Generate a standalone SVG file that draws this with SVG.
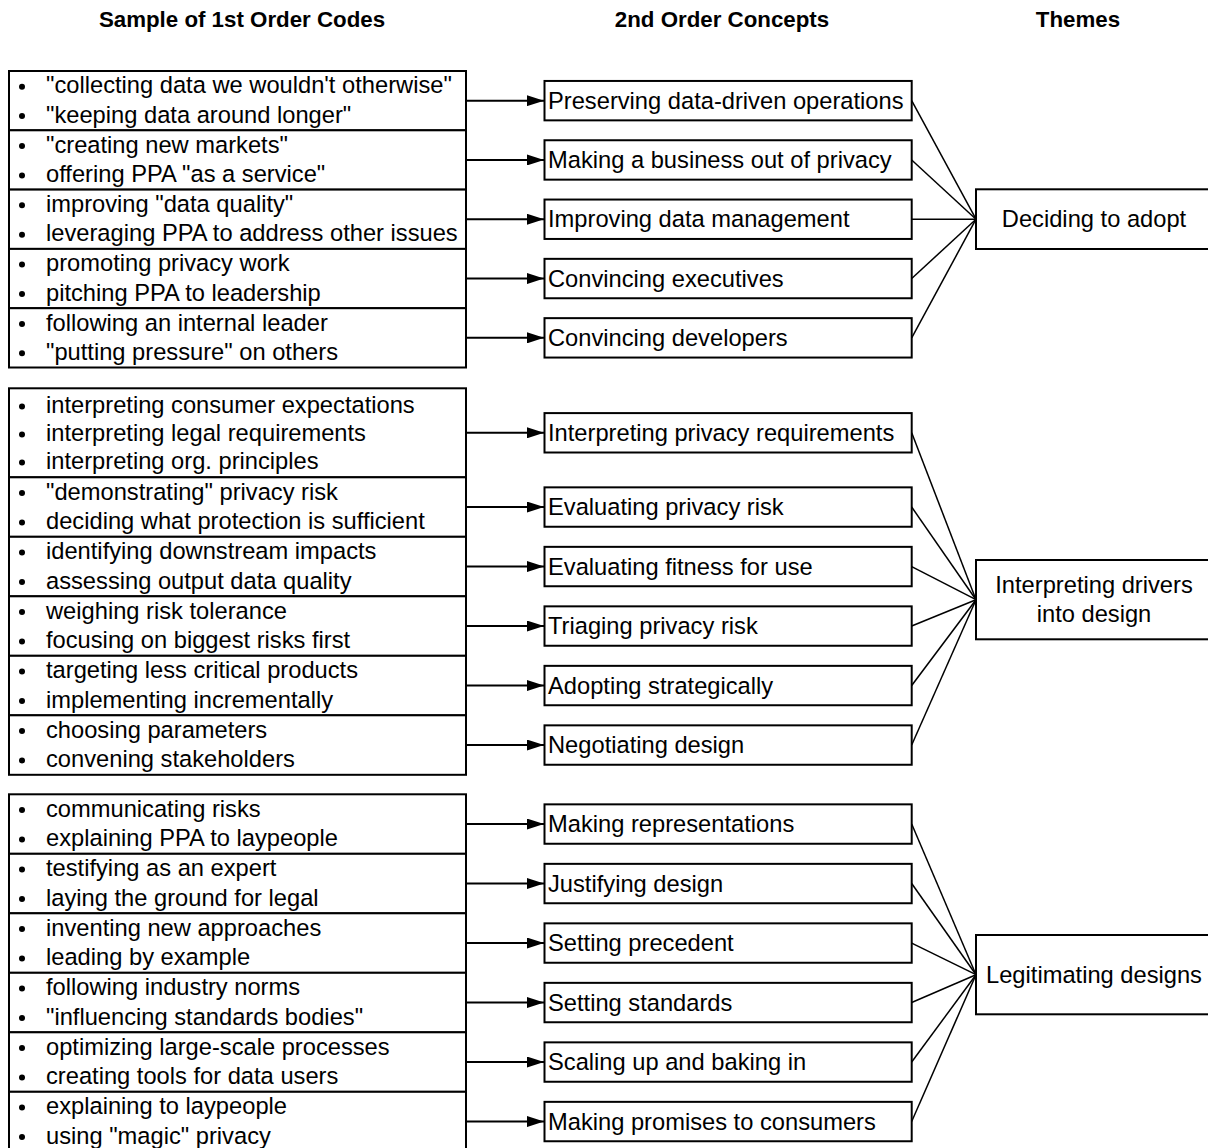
<svg xmlns="http://www.w3.org/2000/svg" width="1208" height="1148" viewBox="0 0 1208 1148">
<style>
  text { font-family: "Liberation Sans", Arial, sans-serif; fill: #000; }
  .hdr { font-size: 22.3px; font-weight: bold; text-anchor: middle; }
  .t { font-size: 23.7px; }
  .c { font-size: 23.7px; text-anchor: middle; }
  .box { fill: #fff; stroke: #000; stroke-width: 2; }
  .arr { stroke: #000; stroke-width: 2; fill: none; }
  .fan { stroke: #000; stroke-width: 1.5; fill: none; }
  .dot { fill: #000; }
</style>
<defs>
  <marker id="ah" viewBox="0 0 17 11" refX="17" refY="5.5" markerWidth="17" markerHeight="11" markerUnits="userSpaceOnUse" orient="auto">
    <path d="M0,0 L17,5.5 L0,11 z" fill="#000"/>
  </marker>
</defs>
<rect width="1208" height="1148" fill="#fff"/>

<g id="headers">
  <text class="hdr" x="242" y="27">Sample of 1st Order Codes</text>
  <text class="hdr" x="722" y="27">2nd Order Concepts</text>
  <text class="hdr" x="1078" y="27">Themes</text>
</g>

<!-- Section 1 first-order codes -->
<g id="c1-1"><rect class="box" x="9" y="71" width="457" height="59.3"/>
  <circle class="dot" cx="22" cy="86.7" r="3"/><text class="t" x="46" y="93.3">"collecting data we wouldn't otherwise"</text>
  <circle class="dot" cx="22" cy="116.1" r="3"/><text class="t" x="46" y="122.7">"keeping data around longer"</text></g>
<g id="c1-2"><rect class="box" x="9" y="130.3" width="457" height="59.3"/>
  <circle class="dot" cx="22" cy="146" r="3"/><text class="t" x="46" y="152.6">"creating new markets"</text>
  <circle class="dot" cx="22" cy="175.4" r="3"/><text class="t" x="46" y="182">offering PPA "as a service"</text></g>
<g id="c1-3"><rect class="box" x="9" y="189.6" width="457" height="59.3"/>
  <circle class="dot" cx="22" cy="205.3" r="3"/><text class="t" x="46" y="211.9">improving "data quality"</text>
  <circle class="dot" cx="22" cy="234.7" r="3"/><text class="t" x="46" y="241.3">leveraging PPA to address other issues</text></g>
<g id="c1-4"><rect class="box" x="9" y="248.9" width="457" height="59.3"/>
  <circle class="dot" cx="22" cy="264.6" r="3"/><text class="t" x="46" y="271.2">promoting privacy work</text>
  <circle class="dot" cx="22" cy="294" r="3"/><text class="t" x="46" y="300.6">pitching PPA to leadership</text></g>
<g id="c1-5"><rect class="box" x="9" y="308.2" width="457" height="59.3"/>
  <circle class="dot" cx="22" cy="323.9" r="3"/><text class="t" x="46" y="330.5">following an internal leader</text>
  <circle class="dot" cx="22" cy="353.3" r="3"/><text class="t" x="46" y="359.9">"putting pressure" on others</text></g>

<!-- Section 2 first-order codes -->
<g id="c2-1"><rect class="box" x="9" y="388.3" width="457" height="89"/>
  <circle class="dot" cx="22" cy="406.4" r="3"/><text class="t" x="46" y="413">interpreting consumer expectations</text>
  <circle class="dot" cx="22" cy="434.4" r="3"/><text class="t" x="46" y="441">interpreting legal requirements</text>
  <circle class="dot" cx="22" cy="462.4" r="3"/><text class="t" x="46" y="469">interpreting org. principles</text></g>
<g id="c2-2"><rect class="box" x="9" y="477.3" width="457" height="59.5"/>
  <circle class="dot" cx="22" cy="493" r="3"/><text class="t" x="46" y="499.6">"demonstrating" privacy risk</text>
  <circle class="dot" cx="22" cy="522.4" r="3"/><text class="t" x="46" y="529">deciding what protection is sufficient</text></g>
<g id="c2-3"><rect class="box" x="9" y="536.8" width="457" height="59.5"/>
  <circle class="dot" cx="22" cy="552.5" r="3"/><text class="t" x="46" y="559.1">identifying downstream impacts</text>
  <circle class="dot" cx="22" cy="581.9" r="3"/><text class="t" x="46" y="588.5">assessing output data quality</text></g>
<g id="c2-4"><rect class="box" x="9" y="596.3" width="457" height="59.5"/>
  <circle class="dot" cx="22" cy="612" r="3"/><text class="t" x="46" y="618.6">weighing risk tolerance</text>
  <circle class="dot" cx="22" cy="641.4" r="3"/><text class="t" x="46" y="648">focusing on biggest risks first</text></g>
<g id="c2-5"><rect class="box" x="9" y="655.8" width="457" height="59.5"/>
  <circle class="dot" cx="22" cy="671.5" r="3"/><text class="t" x="46" y="678.1">targeting less critical products</text>
  <circle class="dot" cx="22" cy="700.9" r="3"/><text class="t" x="46" y="707.5">implementing incrementally</text></g>
<g id="c2-6"><rect class="box" x="9" y="715.3" width="457" height="59.5"/>
  <circle class="dot" cx="22" cy="731" r="3"/><text class="t" x="46" y="737.6">choosing parameters</text>
  <circle class="dot" cx="22" cy="760.4" r="3"/><text class="t" x="46" y="767">convening stakeholders</text></g>

<!-- Section 3 first-order codes -->
<g id="c3-1"><rect class="box" x="9" y="794.3" width="457" height="59.5"/>
  <circle class="dot" cx="22" cy="810" r="3"/><text class="t" x="46" y="816.6">communicating risks</text>
  <circle class="dot" cx="22" cy="839.4" r="3"/><text class="t" x="46" y="846">explaining PPA to laypeople</text></g>
<g id="c3-2"><rect class="box" x="9" y="853.8" width="457" height="59.5"/>
  <circle class="dot" cx="22" cy="869.5" r="3"/><text class="t" x="46" y="876.1">testifying as an expert</text>
  <circle class="dot" cx="22" cy="898.9" r="3"/><text class="t" x="46" y="905.5">laying the ground for legal</text></g>
<g id="c3-3"><rect class="box" x="9" y="913.3" width="457" height="59.5"/>
  <circle class="dot" cx="22" cy="929" r="3"/><text class="t" x="46" y="935.6">inventing new approaches</text>
  <circle class="dot" cx="22" cy="958.4" r="3"/><text class="t" x="46" y="965">leading by example</text></g>
<g id="c3-4"><rect class="box" x="9" y="972.8" width="457" height="59.5"/>
  <circle class="dot" cx="22" cy="988.5" r="3"/><text class="t" x="46" y="995.1">following industry norms</text>
  <circle class="dot" cx="22" cy="1017.9" r="3"/><text class="t" x="46" y="1024.5">"influencing standards bodies"</text></g>
<g id="c3-5"><rect class="box" x="9" y="1032.3" width="457" height="59.5"/>
  <circle class="dot" cx="22" cy="1048" r="3"/><text class="t" x="46" y="1054.6">optimizing large-scale processes</text>
  <circle class="dot" cx="22" cy="1077.4" r="3"/><text class="t" x="46" y="1084">creating tools for data users</text></g>
<g id="c3-6"><rect class="box" x="9" y="1091.8" width="457" height="59.5"/>
  <circle class="dot" cx="22" cy="1107.5" r="3"/><text class="t" x="46" y="1114.1">explaining to laypeople</text>
  <circle class="dot" cx="22" cy="1136.9" r="3"/><text class="t" x="46" y="1143.5">using "magic" privacy</text></g>

<!-- Connectors -->
<g id="connectors">
  <line class="arr" x1="466" y1="100.65" x2="544" y2="100.65" marker-end="url(#ah)"/>
  <line class="arr" x1="466" y1="159.95" x2="544" y2="159.95" marker-end="url(#ah)"/>
  <line class="arr" x1="466" y1="219.25" x2="544" y2="219.25" marker-end="url(#ah)"/>
  <line class="arr" x1="466" y1="278.55" x2="544" y2="278.55" marker-end="url(#ah)"/>
  <line class="arr" x1="466" y1="337.85" x2="544" y2="337.85" marker-end="url(#ah)"/>

  <line class="arr" x1="466" y1="432.8" x2="544" y2="432.8" marker-end="url(#ah)"/>
  <line class="arr" x1="466" y1="507.05" x2="544" y2="507.05" marker-end="url(#ah)"/>
  <line class="arr" x1="466" y1="566.55" x2="544" y2="566.55" marker-end="url(#ah)"/>
  <line class="arr" x1="466" y1="626.05" x2="544" y2="626.05" marker-end="url(#ah)"/>
  <line class="arr" x1="466" y1="685.55" x2="544" y2="685.55" marker-end="url(#ah)"/>
  <line class="arr" x1="466" y1="745.05" x2="544" y2="745.05" marker-end="url(#ah)"/>

  <line class="arr" x1="466" y1="824.05" x2="544" y2="824.05" marker-end="url(#ah)"/>
  <line class="arr" x1="466" y1="883.55" x2="544" y2="883.55" marker-end="url(#ah)"/>
  <line class="arr" x1="466" y1="943.05" x2="544" y2="943.05" marker-end="url(#ah)"/>
  <line class="arr" x1="466" y1="1002.55" x2="544" y2="1002.55" marker-end="url(#ah)"/>
  <line class="arr" x1="466" y1="1062.05" x2="544" y2="1062.05" marker-end="url(#ah)"/>
  <line class="arr" x1="466" y1="1121.55" x2="544" y2="1121.55" marker-end="url(#ah)"/>

  <line class="fan" x1="911.7" y1="100.65" x2="976" y2="219.2"/>
  <line class="fan" x1="911.7" y1="159.95" x2="976" y2="219.2"/>
  <line class="fan" x1="911.7" y1="219.25" x2="976" y2="219.2"/>
  <line class="fan" x1="911.7" y1="278.55" x2="976" y2="219.2"/>
  <line class="fan" x1="911.7" y1="337.85" x2="976" y2="219.2"/>

  <line class="fan" x1="911.7" y1="432.8" x2="976" y2="599.7"/>
  <line class="fan" x1="911.7" y1="507.05" x2="976" y2="599.7"/>
  <line class="fan" x1="911.7" y1="566.55" x2="976" y2="599.7"/>
  <line class="fan" x1="911.7" y1="626.05" x2="976" y2="599.7"/>
  <line class="fan" x1="911.7" y1="685.55" x2="976" y2="599.7"/>
  <line class="fan" x1="911.7" y1="745.05" x2="976" y2="599.7"/>

  <line class="fan" x1="911.7" y1="824.05" x2="976" y2="974.7"/>
  <line class="fan" x1="911.7" y1="883.55" x2="976" y2="974.7"/>
  <line class="fan" x1="911.7" y1="943.05" x2="976" y2="974.7"/>
  <line class="fan" x1="911.7" y1="1002.55" x2="976" y2="974.7"/>
  <line class="fan" x1="911.7" y1="1062.05" x2="976" y2="974.7"/>
  <line class="fan" x1="911.7" y1="1121.55" x2="976" y2="974.7"/>
</g>

<!-- 2nd order concepts -->
<g id="m1-1"><rect class="box" x="544.5" y="80.95" width="367.2" height="39.4"/><text class="t" x="548" y="108.65">Preserving data-driven operations</text></g>
<g id="m1-2"><rect class="box" x="544.5" y="140.25" width="367.2" height="39.4"/><text class="t" x="548" y="167.95">Making a business out of privacy</text></g>
<g id="m1-3"><rect class="box" x="544.5" y="199.55" width="367.2" height="39.4"/><text class="t" x="548" y="227.25">Improving data management</text></g>
<g id="m1-4"><rect class="box" x="544.5" y="258.85" width="367.2" height="39.4"/><text class="t" x="548" y="286.55">Convincing executives</text></g>
<g id="m1-5"><rect class="box" x="544.5" y="318.15" width="367.2" height="39.4"/><text class="t" x="548" y="345.85">Convincing developers</text></g>

<g id="m2-1"><rect class="box" x="544.5" y="413.1" width="367.2" height="39.4"/><text class="t" x="548" y="440.8">Interpreting privacy requirements</text></g>
<g id="m2-2"><rect class="box" x="544.5" y="487.35" width="367.2" height="39.4"/><text class="t" x="548" y="515.05">Evaluating privacy risk</text></g>
<g id="m2-3"><rect class="box" x="544.5" y="546.85" width="367.2" height="39.4"/><text class="t" x="548" y="574.55">Evaluating fitness for use</text></g>
<g id="m2-4"><rect class="box" x="544.5" y="606.35" width="367.2" height="39.4"/><text class="t" x="548" y="634.05">Triaging privacy risk</text></g>
<g id="m2-5"><rect class="box" x="544.5" y="665.85" width="367.2" height="39.4"/><text class="t" x="548" y="693.55">Adopting strategically</text></g>
<g id="m2-6"><rect class="box" x="544.5" y="725.35" width="367.2" height="39.4"/><text class="t" x="548" y="753.05">Negotiating design</text></g>

<g id="m3-1"><rect class="box" x="544.5" y="804.35" width="367.2" height="39.4"/><text class="t" x="548" y="832.05">Making representations</text></g>
<g id="m3-2"><rect class="box" x="544.5" y="863.85" width="367.2" height="39.4"/><text class="t" x="548" y="891.55">Justifying design</text></g>
<g id="m3-3"><rect class="box" x="544.5" y="923.35" width="367.2" height="39.4"/><text class="t" x="548" y="951.05">Setting precedent</text></g>
<g id="m3-4"><rect class="box" x="544.5" y="982.85" width="367.2" height="39.4"/><text class="t" x="548" y="1010.55">Setting standards</text></g>
<g id="m3-5"><rect class="box" x="544.5" y="1042.35" width="367.2" height="39.4"/><text class="t" x="548" y="1070.05">Scaling up and baking in</text></g>
<g id="m3-6"><rect class="box" x="544.5" y="1101.85" width="367.2" height="39.4"/><text class="t" x="548" y="1129.55">Making promises to consumers</text></g>

<!-- Themes -->
<g id="theme-1"><rect class="box" x="976" y="189.3" width="236" height="59.7"/><text class="c" x="1094" y="227.2">Deciding to adopt</text></g>
<g id="theme-2"><rect class="box" x="976" y="560" width="236" height="79.3"/><text class="c" x="1094" y="592.7">Interpreting drivers</text><text class="c" x="1094" y="622">into design</text></g>
<g id="theme-3"><rect class="box" x="976" y="935" width="236" height="79.3"/><text class="c" x="1094" y="982.7">Legitimating designs</text></g>
</svg>
